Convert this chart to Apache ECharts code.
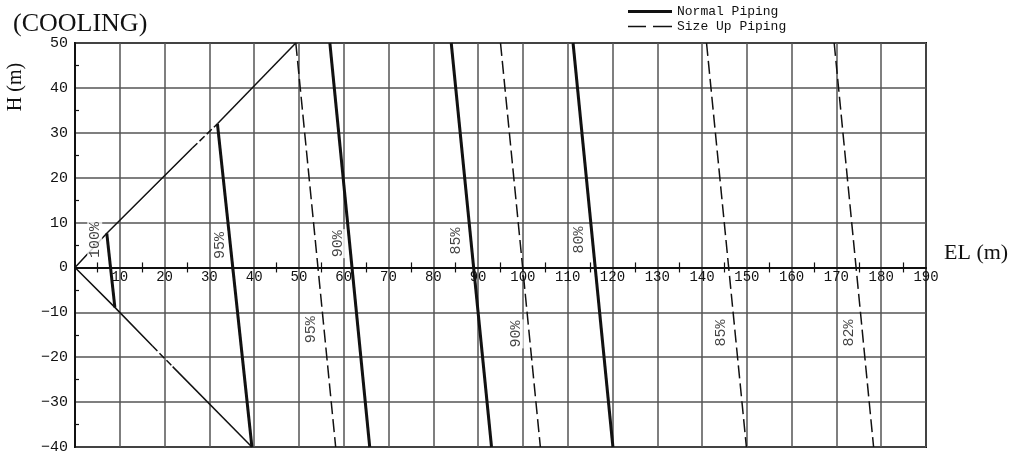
<!DOCTYPE html>
<html>
<head>
<meta charset="utf-8">
<script src="https://cdn.jsdelivr.net/npm/echarts@6/dist/echarts.min.js"></script>
<style>
  html, body { margin: 0; background: #fff; }
  #chart { width: 1015px; height: 452px; }
</style>
</head>
<body>
<div id="chart"></div>
<script>
// 坐标轴范围
let elRange = [0, 190]; // EL (m)
let hRange = [-40, 50]; // H (m)
let step = 10;

// Normal Piping (实线) 上端点 / 下端点
let normalNames = ['100%', '95%', '90%', '85%', '80%'];
let normalTop = [[7.1, 7.6], [31.8, 32], [56.9, 50], [84.0, 50], [111.2, 50]];
let normalBottom = [[8.9, -8.9], [39.5, -40], [65.8, -40], [93.0, -40], [120.1, -40]];

// Size Up Piping (虚线)
let sizeUpNames = ['95%', '90%', '85%', '82%'];
let sizeUpTop = [[49.3, 50], [95.0, 50], [141.0, 50], [169.5, 50]];
let sizeUpBottom = [[58.2, -40], [103.9, -40], [149.9, -40], [178.3, -40]];

// 包络线
let upperSolidA = [[0, 0], [7.1, 7.6], [26.2, 26.6]];
let upperDashed = [[26.2, 26.6], [31.8, 32]];
let upperSolidB = [[31.8, 32], [49.3, 50]];
let lowerSolidA = [[0, 0], [8.9, -8.9], [17.3, -17.5]];
let lowerDashed = [[17.3, -17.5], [21.8, -22.1]];
let lowerSolidB = [[21.8, -22.1], [39.5, -40]];

// 百分比标注
let curveLabels = ['100%', '95%', '90%', '85%', '80%', '95%', '90%', '85%', '82%'];
let labelAt = [[4.4, 6.1], [32.3, 4.9], [58.7, 5.3], [85.1, 5.9], [112.5, 6.1],
               [52.8, -13.9], [98.5, -14.8], [144.3, -14.6], [172.8, -14.6]];

let ink = '#111';
let mono = 'Liberation Mono';
let serif = 'Liberation Serif';

let chart = echarts.init(document.getElementById('chart'));

function seg(data, width, type, name) {
    return {
        type: 'line',
        name: name,
        data: data,
        symbol: 'none',
        silent: true,
        z: 3,
        lineStyle: { color: ink, width: width, type: type },
        itemStyle: { color: ink }
    };
}

let series = [];
normalTop.forEach((p, i) => {
    series.push(seg([p, normalBottom[i]], 3, 'solid', 'Normal Piping'));
});
sizeUpTop.forEach((p, i) => {
    series.push(seg([p, sizeUpBottom[i]], 1.5, [13, 5], 'Size Up Piping'));
});
series.push(seg(upperSolidA, 1.5, 'solid'));
series.push(seg(upperDashed, 1.5, [7, 3]));
series.push(seg(upperSolidB, 1.5, 'solid'));
series.push(seg(lowerSolidA, 1.5, 'solid'));
series.push(seg(lowerDashed, 1.5, [7, 3]));
series.push(seg(lowerSolidB, 1.5, 'solid'));

// 旋转的百分比文字
series.push({
    type: 'scatter',
    data: labelAt.map((p, i) => ({ value: p, name: curveLabels[i] })),
    symbolSize: 1,
    itemStyle: { color: 'rgba(0,0,0,0)' },
    silent: true,
    z: 10,
    label: {
        show: true,
        position: 'inside',
        rotate: 90,
        formatter: (p) => p.name,
        fontFamily: mono,
        fontSize: 15,
        color: ink,
        backgroundColor: '#fff',
        padding: [0, 1]
    }
});

// 横轴 (两条叠在 0 线上，小刻度上下各一半)
function xAxisOf(pos) {
    return {
        type: 'value',
        gridIndex: 0,
        position: pos,
        min: elRange[0],
        max: elRange[1],
        interval: step,
        axisLine: { onZero: true, onZeroAxisIndex: 0, lineStyle: { color: ink, width: 2 } },
        axisTick: { show: false },
        minorTick: { show: true, splitNumber: 2, length: 5, lineStyle: { color: ink, width: 1.2 } },
        axisLabel: { show: false },
        splitLine: { show: pos === 'bottom', lineStyle: { color: '#555', width: 1.5 } }
    };
}

// 只放刻度文字的横轴，底边对齐 0 线
let labelAxis = {
    type: 'value',
    gridIndex: 1,
    position: 'bottom',
    min: elRange[0],
    max: elRange[1],
    interval: step,
    axisLine: { show: false },
    axisTick: { show: false },
    splitLine: { show: false },
    axisLabel: {
        showMinLabel: false,
        margin: 3,
        fontFamily: mono,
        fontSize: 14,
        color: ink
    }
};

chart.setOption({
    animation: false,
    backgroundColor: '#fff',
    title: {
        text: '(COOLING)',
        left: 8,
        top: 6,
        textStyle: { fontFamily: serif, fontSize: 26, fontWeight: 'normal', color: ink }
    },
    legend: {
        data: [
            { name: 'Normal Piping', icon: 'path://M0,0H44V3H0Z' },
            { name: 'Size Up Piping', icon: 'path://M0,0H18V1.5H0ZM25,0H44V1.5H25Z' }
        ],
        orient: 'vertical',
        left: 628,
        top: 5,
        padding: 0,
        itemGap: 2,
        itemWidth: 44,
        itemHeight: 12,
        selectedMode: false,
        textStyle: { fontFamily: mono, fontSize: 13, color: ink }
    },
    grid: [
        {
            left: 75,
            right: 89,
            top: 43,
            bottom: 5,
            outerBoundsMode: 'none',
            containLabel: false,
            show: true,
            borderColor: ink,
            borderWidth: 2,
            backgroundColor: '#fff'
        },
        { left: 75, right: 89, top: 43, height: 224.4, outerBoundsMode: 'none', containLabel: false }
    ],
    xAxis: [xAxisOf('bottom'), xAxisOf('top'), labelAxis],
    yAxis: [
        {
            type: 'value',
            gridIndex: 0,
            min: hRange[0],
            max: hRange[1],
            interval: step,
            axisLine: { onZero: false, lineStyle: { color: ink, width: 2 } },
            axisTick: { show: false, inside: true },
            minorTick: { show: true, splitNumber: 2, length: 4, lineStyle: { color: ink, width: 1.2 } },
            axisLabel: {
                margin: 7,
                fontFamily: mono,
                fontSize: 15,
                color: ink,
                formatter: (v) => (v < 0 ? '\u2212' + (-v) : String(v))
            },
            splitLine: { show: true, lineStyle: { color: '#555', width: 1.5 } }
        },
        { type: 'value', gridIndex: 1, show: false, min: 0, max: hRange[1] }
    ],
    graphic: [
        {
            type: 'text',
            x: 16,
            y: 87,
            rotation: Math.PI / 2,
            style: {
                text: 'H (m)',
                font: '20px "Liberation Serif"',
                fill: ink,
                align: 'center',
                verticalAlign: 'middle'
            }
        },
        {
            type: 'text',
            x: 944,
            y: 253,
            style: {
                text: 'EL (m)',
                font: '22px "Liberation Serif"',
                fill: ink,
                align: 'left',
                verticalAlign: 'middle'
            }
        }
    ],
    series: series
});
</script>
</body>
</html>
